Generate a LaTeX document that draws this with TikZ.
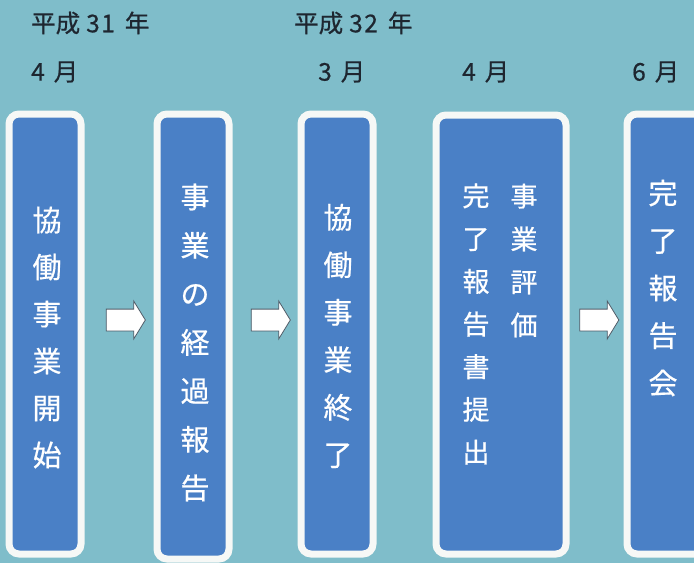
\documentclass[tikz,border=0pt]{standalone}
\usepackage{fontspec}
\setmainfont{Noto Sans CJK JP}
\newfontfamily\medfont[FakeBold=0.6]{Noto Sans CJK JP}
\usetikzlibrary{shapes.arrows}
\definecolor{bgteal}{RGB}{127,189,202}
\definecolor{boxblue}{RGB}{74,128,198}
\definecolor{rimwhite}{RGB}{246,248,246}
\definecolor{headink}{RGB}{30,38,48}
\definecolor{arrowline}{RGB}{80,92,104}
\tikzset{
  stagebox/.style={draw=rimwhite, fill=boxblue, line width=7pt, rounded corners=10pt,
    inner sep=0pt, minimum width=72pt},
  coltext/.style={text=white, align=center, inner sep=0pt},
  headtext/.style={text=headink, anchor=west, inner sep=0pt, font=\medfont\fontsize{24.5}{27}\selectfont},
  blockarrow/.style={single arrow, draw=arrowline, fill=white, line width=0.8pt,
    inner xsep=0pt, inner ysep=10.5pt, single arrow head extend=8pt,
    single arrow tip angle=117, minimum height=39pt}
}
\begin{document}
\begin{tikzpicture}[x=1pt,y=-1pt]
\useasboundingbox (0,0) rectangle (694,563);
\fill[bgteal] (0,0) rectangle (694,563);
\clip (0,0) rectangle (694,563);

% headers
\node[headtext] (h1) at (31,23) {平成\hspace{6pt}3\hspace{1.5pt}1\hspace{10pt}年};
\node[headtext] (h2) at (31,72) {4\hspace{9pt}月};
\node[headtext] (h3) at (294,23) {平成\hspace{6pt}3\hspace{1.5pt}2\hspace{10pt}年};
\node[headtext] (h4) at (318,72) {3\hspace{9pt}月};
\node[headtext] (h5) at (462,72) {4\hspace{9pt}月};
\node[headtext] (h6) at (632,72) {6\hspace{9pt}月};

% boxes
\node[stagebox, minimum height=440pt] (b1) at (45,334) {};
\node[stagebox, minimum height=445pt] (b2) at (193,336.5) {};
\node[stagebox, minimum height=440pt] (b3) at (337,334) {};
\node[stagebox, minimum width=130pt, minimum height=439pt] (b4) at (501,334.5) {};
\node[stagebox, minimum width=133pt, minimum height=440pt] (b5) at (693.5,334) {};

% box texts
\node[coltext, font=\medfont\fontsize{29}{47}\selectfont] (t1) at (47,337.5) {協\\働\\事\\業\\開\\始};
\node[coltext, font=\medfont\fontsize{29}{48.5}\selectfont] (t2) at (195,342.5) {事\\業\\の\\経\\過\\報\\告};
\node[coltext, font=\medfont\fontsize{29}{47.5}\selectfont] (t3) at (338,336) {協\\働\\事\\業\\終\\了};
\node[coltext, font=\medfont\fontsize{27}{42.7}\selectfont] (t4a) at (476,324) {完\\了\\報\\告\\書\\提\\出};
\node[coltext, font=\medfont\fontsize{27}{43}\selectfont] (t4b) at (524,260.5) {事\\業\\評\\価};
\node[coltext, font=\medfont\fontsize{29}{47.5}\selectfont] (t5) at (663,288) {完\\了\\報\\告\\会};

% arrows
\node[blockarrow] (a1) at (122.5,320) {};
\node[blockarrow] (a2) at (267.5,320) {};
\node[blockarrow] (a3) at (596,320) {};
\end{tikzpicture}
\end{document}
